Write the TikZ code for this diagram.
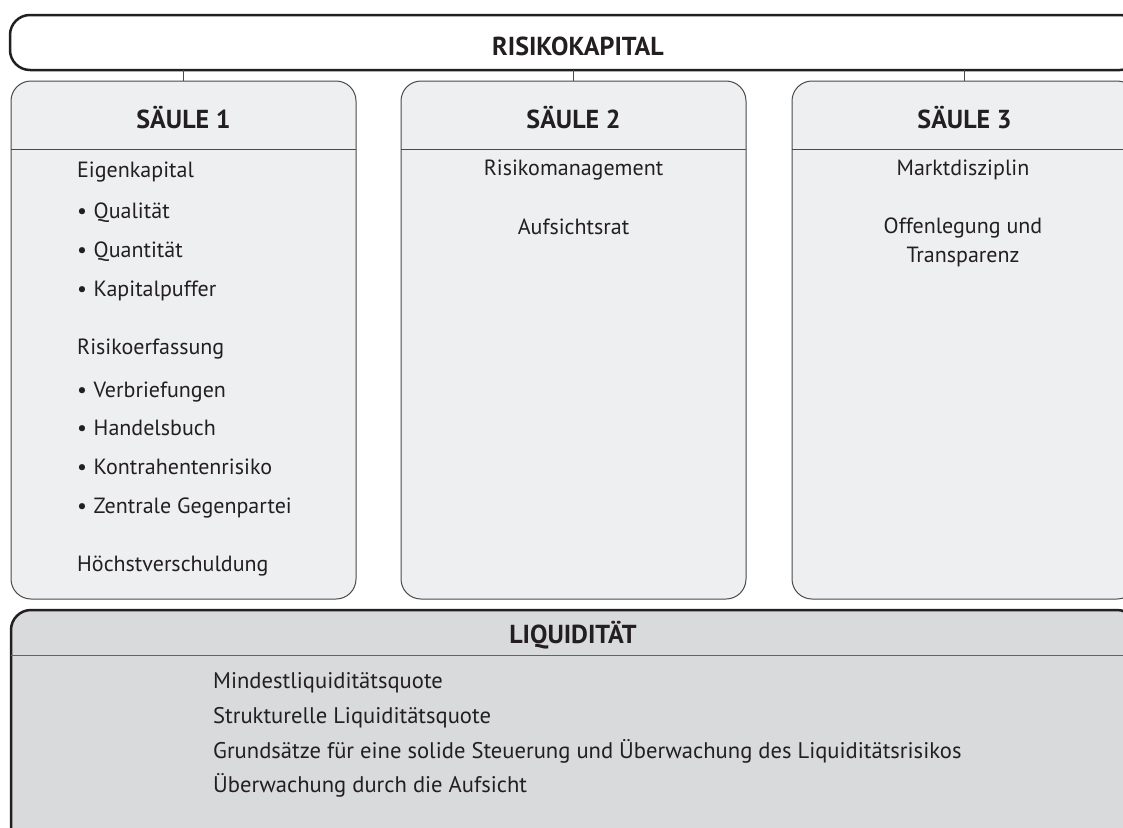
\documentclass[tikz,border=0pt]{standalone}
\usepackage{fontspec}
\setmainfont{PT Sans}
\definecolor{ink}{HTML}{231F20}
\definecolor{pillarfill}{HTML}{EEEFF1}
\definecolor{liqfill}{HTML}{D9DADC}
\definecolor{rule}{HTML}{4A4A4A}
\begin{document}
\begin{tikzpicture}[x=1pt,y=-1pt,
  frame/.style={draw=ink, line width=2.5pt, rounded corners=20pt, anchor=north west, inner sep=0pt, outer sep=0pt},
  pillar/.style={draw=rule, line width=1pt, fill=pillarfill, rounded corners=20pt, anchor=north west, inner sep=0pt, outer sep=0pt, minimum width=345pt, minimum height=518pt},
  link/.style={draw=rule, line width=1pt},
  sep/.style={draw=rule, line width=1pt},
  liqsep/.style={draw=ink!70, line width=1.6pt},
  head/.style={font=\bfseries\fontsize{26}{30}\selectfont, text=ink, anchor=base, inner sep=0pt},
  item/.style={font=\fontsize{22}{26}\selectfont, text=ink, anchor=base west, inner sep=0pt},
  litem/.style={font=\fontsize{22.6}{26}\selectfont, text=ink, anchor=base west, inner sep=0pt},
  citem/.style={font=\fontsize{22}{26}\selectfont, text=ink, anchor=base, inner sep=0pt, align=center}
]
\useasboundingbox (0,0) rectangle (1123,827);
\clip (0,0) rectangle (1123,827);
\fill[white] (0,0) rectangle (1123,827);

% top frame
\node[frame, fill=white, minimum width=1130pt, minimum height=55pt] (top) at (10,15) {};
\node[head] (topt) at (578,55) {RISIKOKAPITAL};

% pillars
\node[pillar] (s1) at (11,81) {};
\node[pillar] (s2) at (401,81) {};
\node[pillar] (s3) at (792,81) {};

% connectors
\draw[link] (s1.north) -- (s1.north |- top.south);
\draw[link] (s2.north) -- (s2.north |- top.south);
\draw[link] (s3.north) -- (s3.north |- top.south);

% header separators
\coordinate (h1) at (0,149.5);
\draw[sep] (s1.west |- h1) -- (s1.east |- h1);
\draw[sep] (s2.west |- h1) -- (s2.east |- h1);
\draw[sep] (s3.west |- h1) -- (s3.east |- h1);

\node[head] (s1h) at (183.5,128) {SÄULE 1};
\node[head] (s2h) at (573.5,128) {SÄULE 2};
\node[head] (s3h) at (964.5,128) {SÄULE 3};

% pillar 1 content
\node[item] (a1) at (77,177) {Eigenkapital};
\node[item] (a2) at (77,218) {•\hspace{0.3em}Qualität};
\node[item] (a3) at (77,257) {•\hspace{0.3em}Quantität};
\node[item] (a4) at (77,296) {•\hspace{0.3em}Kapitalpuffer};
\node[item] (a5) at (77,354) {Risikoerfassung};
\node[item] (a6) at (77,397) {•\hspace{0.3em}Verbriefungen};
\node[item] (a7) at (77,435) {•\hspace{0.3em}Handelsbuch};
\node[item] (a8) at (77,474) {•\hspace{0.3em}Kontrahentenrisiko};
\node[item] (a9) at (77,513) {•\hspace{0.3em}Zentrale Gegenpartei};
\node[item] (a10) at (77,571) {Höchstverschuldung};

% pillar 2 content
\node[citem] (b1) at (573.5,175) {Risikomanagement};
\node[citem] (b2) at (573.5,234) {Aufsichtsrat};

% pillar 3 content
\node[citem] (c1) at (963,175) {Marktdisziplin};
\node[citem] (c2) at (963,233) {Offenlegung und};
\node[citem] (c3) at (963,262) {Transparenz};

% liquidity
\node[frame, fill=liqfill, minimum width=1126pt, minimum height=250pt] (liq) at (11,610) {};
\coordinate (h2) at (0,655.5);
\draw[liqsep] (liq.west |- h2) -- (liq.east |- h2);
\node[head] (liqt) at (573,643) {LIQUIDITÄT};
\node[litem] (l1) at (213,688) {Mindestliquiditätsquote};
\node[litem] (l2) at (213,723) {Strukturelle Liquiditätsquote};
\node[litem] (l3) at (213,758) {Grundsätze für eine solide Steuerung und Überwachung des Liquiditätsrisikos};
\node[litem] (l4) at (213,792) {Überwachung durch die Aufsicht};
\end{tikzpicture}
\end{document}
